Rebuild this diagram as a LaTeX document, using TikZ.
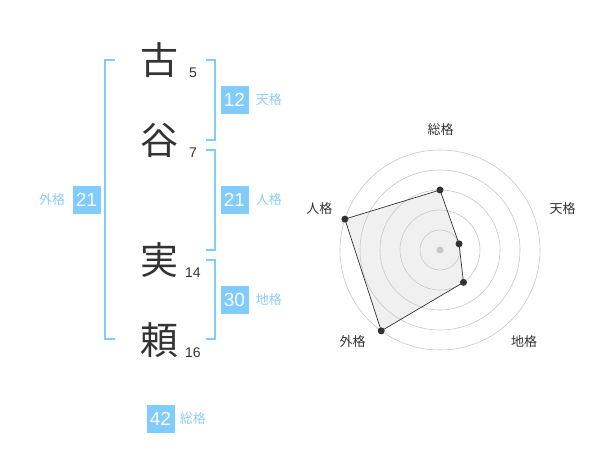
\documentclass[tikz,border=0pt]{standalone}
\usepackage{fontspec}
\setmainfont{Liberation Sans}
\newfontfamily\jpfont{Noto Sans CJK JP}
\usetikzlibrary{positioning}
\definecolor{kakublue}{RGB}{128,204,255}
\definecolor{kakutext}{RGB}{140,205,245}
\definecolor{inkgray}{RGB}{51,51,51}
\begin{document}
\begin{tikzpicture}[
        x=1pt,y=-1pt,
        every node/.append style={inner sep=0pt},
        kanji/.style={font=\jpfont\fontsize{38}{38}\selectfont,text=inkgray},
        strokes/.style={font=\fontsize{14}{14}\selectfont,text=inkgray,anchor=west},
        score/.style={fill=kakublue,text=white,font=\fontsize{19}{19}\selectfont,minimum size=28pt},
        kaku/.style={font=\jpfont\fontsize{13}{13}\selectfont,text=kakutext},
        bracket/.style={draw=kakublue,line width=1.5pt},
        ring/.style={draw=black!22,line width=0.6pt},
        axislabel/.style={font=\jpfont\fontsize{13}{13}\selectfont,text=inkgray},
        dot/.style={circle,fill=inkgray,minimum size=7pt}
    ]
        \useasboundingbox (0,0) rectangle (600,470);

        % name column
        \node[kanji] (k1) at (159,60) {古};
        \node[kanji] (k2) at (159,140) {谷};
        \node[kanji] (k3) at (159,260) {実};
        \node[kanji] (k4) at (159,340) {頼};
        \node[strokes] (s1) at (189,73) {5};
        \node[strokes] (s2) at (189,153) {7};
        \node[strokes] (s3) at (185,273) {14};
        \node[strokes] (s4) at (185,353) {16};

        % brackets
        \coordinate (lt) at (105,60);
        \coordinate (lb) at (105,339);
        \draw[bracket] ([xshift=10pt]lt) -- (lt) -- (lb) -- ([xshift=10pt]lb);
        \foreach \top/\bot in {60/140,150/250,260/339}
            \draw[bracket] (206,\top) -- (215,\top) -- (215,\bot) -- (206,\bot);

        % scores
        \node[score] (ten) at (234.5,100) {12};
        \node[score] (jin) at (234.5,200) {21};
        \node[score] (chi) at (234.5,300) {30};
        \node[score] (gai) at (86.5,200) {21};
        \node[score] (sou) at (160.5,419) {42};
        \node[kaku] [right=7pt of ten] {天格};
        \node[kaku] [right=7pt of jin] {人格};
        \node[kaku] [right=7pt of chi] {地格};
        \node[kaku] [left=7pt of gai] {外格};
        \node[kaku] [right=5pt of sou] {総格};

        % radar
        \begin{scope}[shift={(440,250)},yscale=-1]
            \coordinate (p1) at (90:60);
            \coordinate (p2) at (18:20);
            \coordinate (p3) at (-54:40);
            \coordinate (p4) at (-126:100);
            \coordinate (p5) at (162:100);
            \fill[black!6] (p1) -- (p2) -- (p3) -- (p4) -- (p5) -- cycle;
            \foreach \r in {20,40,...,100}
                \draw[ring] (0,0) circle[radius=\r pt];
            \fill[black!22] (0,0) circle[radius=3.5pt];
            \draw[inkgray,line width=0.7pt] (p1) -- (p2) -- (p3) -- (p4) -- (p5) -- cycle;
            \foreach \p in {p1,p2,p3,p4,p5}
                \node[dot] at (\p) {};
            \node[axislabel] (a1) at (0.7,120) {総格};
            \node[axislabel] (a2) at (122.7,41.3) {天格};
            \node[axislabel] (a3) at (84,-91.7) {地格};
            \node[axislabel] (a4) at (-87.3,-91.7) {外格};
            \node[axislabel] (a5) at (-120.7,41.3) {人格};
        \end{scope}
    \end{tikzpicture}
\end{document}
